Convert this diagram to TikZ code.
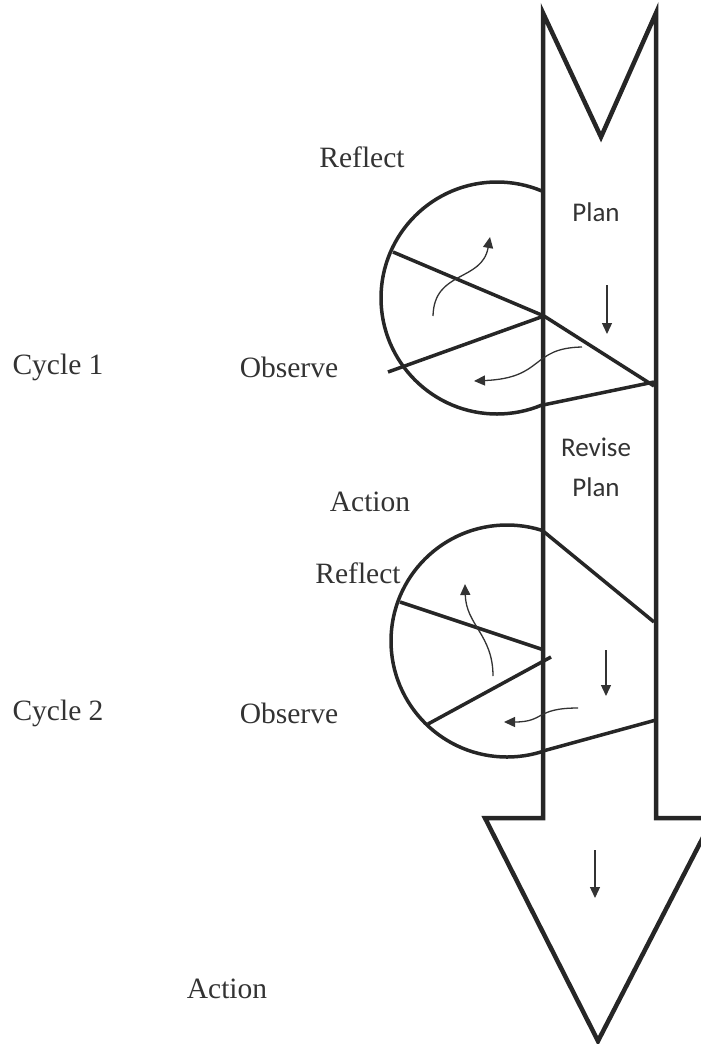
\documentclass[tikz,border=0pt]{standalone}
\usepackage{fontspec}
\setmainfont{Liberation Serif}
\newfontfamily\calfont{Carlito}
\usetikzlibrary{arrows.meta}
\begin{document}
\begin{tikzpicture}[x=1pt,y=-1pt,
  outline/.style={line width=4.5pt,line join=miter,color=black!85},
  ring/.style={line width=3.5pt,color=black!85},
  chord/.style={line width=3.5pt,color=black!85},
  flow/.style={line width=1.3pt,color=black!80,-{Triangle[length=11pt,width=10pt]}},
  lbl/.style={font=\fontsize{29.5}{32}\selectfont,text=black!80,inner sep=0pt},
  sans/.style={font=\calfont\fontsize{27}{30}\selectfont,text=black!80,inner sep=0pt}]
\useasboundingbox (0,0) rectangle (701,1044);
% big arrow
\begin{scope}
\clip (0,0) rectangle (701,1044);
\draw[outline] (543,13) -- (601,137) -- (656,13) -- (656,818) -- (713,818) -- (598,1041) -- (485,818) -- (543,818) -- cycle;
\end{scope}
% circles
\begin{scope}
\clip (0,0) rectangle (543,1044);
\draw[ring] (497,298) circle (116);
\draw[ring] (507,641) circle (116);
\end{scope}
% cycle 1 chords
\coordinate (h1) at (544,316);
\coordinate (u1) at (393,252);
\coordinate (l1) at (388,372);
\coordinate (r1) at (654,386);
\coordinate (b1) at (543,405);
\coordinate (r1b) at (654,382);
\draw[chord] (u1) -- (h1) -- (r1);
\draw[chord] (l1) -- (h1);
\draw[chord] (b1) -- (r1b);
% cycle 2 chords
\coordinate (u2) at (400,602);
\coordinate (h2a) at (544,650);
\coordinate (h2b) at (551,657);
\coordinate (l2) at (428,724);
\coordinate (t2) at (543,531);
\coordinate (r2) at (654,622);
\coordinate (b2) at (543,751);
\coordinate (r2b) at (656,720);
\draw[chord] (u2) -- (h2a);
\draw[chord] (l2) -- (h2b);
\draw[chord] (t2) -- (r2);
\draw[chord] (b2) -- (r2b);
% small flow arrows
\coordinate (a1s) at (433,316);
\coordinate (a1e) at (490,237);
\draw[flow] (a1s) .. controls (434,270) and (482,282) .. (a1e);
\coordinate (d1s) at (607,285);
\coordinate (d1e) at (607,334);
\draw[flow] (d1s) -- (d1e);
\coordinate (c1s) at (582,347);
\coordinate (c1e) at (474,381);
\draw[flow] (c1s) .. controls (530,348) and (545,378) .. (c1e);
\coordinate (a2s) at (493,676);
\coordinate (a2e) at (465,584);
\draw[flow] (a2s) .. controls (493,635) and (466,625) .. (a2e);
\coordinate (d2s) at (606,650);
\coordinate (d2e) at (606,696);
\draw[flow] (d2s) -- (d2e);
\coordinate (c2s) at (578,708);
\coordinate (c2e) at (504,722);
\draw[flow] (c2s) .. controls (535,708) and (545,722) .. (c2e);
\coordinate (d3s) at (595,850);
\coordinate (d3e) at (595,898);
\draw[flow] (d3s) -- (d3e);
% labels
\node[lbl] (reflect1) at (362,157) {Reflect};
\node[sans] (plan1) at (596,212) {Plan};
\node[lbl] (cycle1) at (58,367) {Cycle 1};
\node[lbl] (observe1) at (289,367) {Observe};
\node[sans] (revise) at (596,447) {Revise};
\node[sans] (plan2) at (596,487) {Plan};
\node[lbl] (action1) at (370,502) {Action};
\node[lbl] (reflect2) at (358,573) {Reflect};
\node[lbl] (cycle2) at (58,713) {Cycle 2};
\node[lbl] (observe2) at (289,713) {Observe};
\node[lbl] (action2) at (227,989) {Action};
\end{tikzpicture}
\end{document}
